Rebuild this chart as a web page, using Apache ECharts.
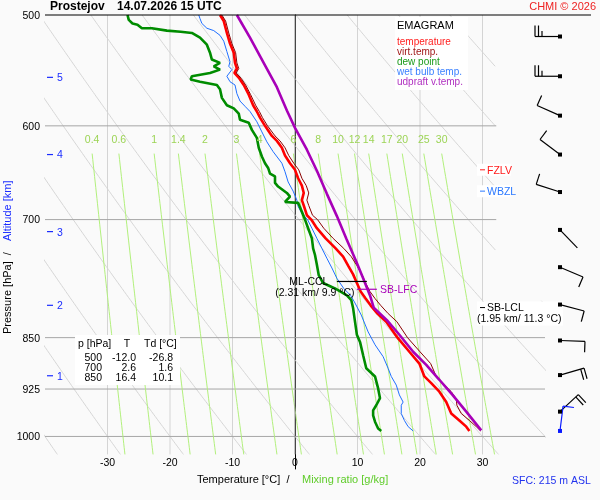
<!DOCTYPE html>
<html lang="cs">
<head>
<meta charset="utf-8">
<title>Emagram Prostejov 14.07.2026 15 UTC</title>
<script src="https://cdn.jsdelivr.net/npm/echarts@6/dist/echarts.min.js"></script>
<style>
  html, body { margin: 0; padding: 0; background: #fafafa; }
  #main { width: 600px; height: 500px; }
</style>
</head>
<body>
<div id="main"></div>
<script>
// sounding: [pressure hPa, temperature °C]
var temperature = [[500,-12.0],[505,-11.4],[515,-10.9],[524,-10.4],[532,-9.8],[541,-9.6],[546,-9.3],[550,-9.7],[555,-8.9],[561,-8.2],[570,-7.4],[580,-6.7],[586,-6.1],[592,-5.6],[600,-4.8],[610,-3.7],[615,-2.9],[622,-2.1],[630,-1.6],[638,-0.8],[645,0.0],[654,0.5],[662,1.1],[670,1.4],[678,1.1],[684,1.4],[695,1.9],[700,2.6],[710,3.5],[722,4.9],[734,6.5],[744,7.7],[755,8.5],[766,9.3],[777,9.9],[788,10.5],[797,11.3],[806,12.1],[817,13.2],[828,14.6],[850,16.4],[870,18.3],[887,19.9],[906,20.7],[916,21.8],[929,23.1],[945,24.2],[963,25.0],[974,26.3],[984,27.4],[991,27.9]];
var virtTemp = [[500,-11.7],[505,-11.1],[515,-10.6],[524,-10.1],[532,-9.5],[541,-9.3],[546,-9.0],[550,-9.4],[555,-8.6],[561,-7.9],[570,-7.1],[580,-6.3],[586,-5.7],[592,-5.2],[600,-4.4],[610,-3.2],[615,-2.4],[622,-1.6],[630,-1.0],[638,-0.2],[645,0.6],[654,1.1],[662,1.8],[670,2.2],[678,1.9],[684,2.2],[695,2.8],[700,3.6],[710,4.6],[722,6.1],[734,7.8],[744,9.0],[755,9.9],[766,10.7],[777,11.3],[788,12.0],[797,12.8],[806,13.7],[817,14.9],[828,16.3],[850,18.0],[870,20.0],[887,21.7],[906,22.6],[916,23.6],[929,25.0],[940,25.8],[950,25.9],[963,26.6],[974,27.9],[984,29.0],[991,29.7]];
var dewPoint = [[500,-26.8],[504,-26.6],[507,-26.0],[508,-25.2],[511,-24.5],[511,-22.9],[513,-20.5],[514,-18.3],[515,-16.5],[519,-15.2],[525,-14.1],[532,-13.6],[538,-13.3],[541,-12.0],[544,-13.0],[547,-12.0],[550,-13.6],[553,-16.5],[556,-16.7],[558,-15.2],[561,-12.5],[565,-12.0],[573,-11.7],[580,-10.9],[583,-9.8],[588,-9.0],[594,-8.8],[597,-7.4],[604,-6.9],[612,-6.1],[622,-5.8],[631,-5.3],[638,-4.8],[643,-4.3],[649,-4.0],[652,-3.2],[659,-3.2],[663,-2.7],[670,-1.3],[674,-0.8],[680,-1.6],[681,0.5],[691,1.1],[700,1.6],[710,2.1],[722,2.7],[734,2.9],[742,3.2],[754,3.5],[767,3.8],[777,4.5],[784,6.4],[790,7.7],[793,8.3],[799,9.0],[810,9.3],[828,9.6],[846,9.9],[850,10.1],[856,10.4],[875,10.9],[894,11.4],[906,12.8],[924,13.3],[939,13.6],[950,13.0],[958,12.5],[966,12.5],[976,12.8],[987,13.3],[991,13.8]];
var wetBulb = [[500,-15.4],[503,-15.2],[507,-14.9],[511,-14.1],[513,-13.0],[517,-12.0],[522,-11.4],[531,-10.9],[540,-10.4],[544,-10.6],[547,-10.1],[553,-10.9],[558,-10.4],[561,-9.6],[569,-9.3],[576,-8.8],[581,-8.0],[586,-7.2],[596,-6.1],[606,-5.3],[616,-4.5],[626,-3.5],[638,-2.1],[647,-1.6],[658,-1.1],[668,-0.3],[678,0.3],[685,0.5],[693,1.1],[700,2.0],[710,2.7],[722,3.5],[734,4.3],[746,5.1],[758,5.9],[771,6.7],[784,7.8],[793,8.9],[803,9.6],[819,10.6],[842,11.7],[860,12.8],[877,14.1],[894,14.9],[906,15.4],[919,16.2],[934,16.7],[945,17.3],[950,17.0],[952,16.7],[963,17.0],[974,17.5],[984,18.1],[991,18.9]];
var updraft = [[500,-9.3],[519,-7.2],[540,-5.1],[563,-2.9],[585,-1.3],[602,0.0],[624,1.9],[646,3.5],[671,5.1],[696,6.7],[722,8.2],[750,9.8],[771,10.9],[793,12.0],[809,12.6],[826,14.7],[846,16.7],[870,18.9],[889,21.0],[911,23.1],[934,25.2],[960,27.4],[990,29.8]];

// chart furniture
var pressureTicks = [500, 600, 700, 850, 925, 1000];
var isotherms = [-30, -20, -10, 0, 10, 20, 30];
var mixingRatios = [0.4, 0.6, 1, 1.4, 2, 3, 4, 6, 8, 10, 12, 14, 17, 20, 25, 30];
var dryAdiabats = [-40, -30, -20, -10, 0, 10, 20, 30, 40, 50, 60, 70, 80, 90, 100]; // °C at 1000 hPa
var altitudeP = [905, 806, 714, 629, 554];
var altitudeKm = [1, 2, 3, 4, 5];

// wind profile
var windP = [518, 553, 590, 629, 669, 712, 757, 805, 854, 904, 960, 991];
var windDir = [270, 270, 294, 307, 288, 136, 113, 105, 92, 74, 47, 7];
var windSpd = [25, 25, 10, 10, 10, 3, 10, 10, 10, 20, 20, 10];

// table + levels
var tableP = ['500', '700', '850'];
var tableT = ['-12.0', '2.6', '16.4'];
var tableTd = ['-26.8', '1.6', '10.1'];
var levelNames = ['FZLV', 'WBZL', 'SB-LCL'];
var levelP = [645, 668, 809];
var lclInfo = '(1.95 km/ 11.3 °C)';
var cclP = 775, cclInfo = '(2.31 km/ 9.9 °C)';
var lfcP = 785;

var FONT = 'Liberation Sans, Arial, sans-serif';

function flip(arr) { return arr.map(function (d) { return [d[1], d[0]]; }); }

function line(data, color, width, z) {
  return {
    type: 'line', data: data, symbol: 'none', showSymbol: false, silent: true,
    animation: false, clip: true, z: z,
    lineStyle: { color: color, width: width }
  };
}

// keep the upper right corner (barbs, level labels) free of grid lines
function rightLimit(p) { return p < 800 ? 32.2 : 41; }

function segments(pts) {
  var out = [], cur = [];
  pts.forEach(function (d) {
    if (d[0] <= rightLimit(d[1])) cur.push(d);
    else { if (cur.length > 1) out.push(cur); cur = []; }
  });
  if (cur.length > 1) out.push(cur);
  return out;
}

function mixT(w, p) {
  var e = w * p / (622 + w);
  var l = Math.log(e / 6.112);
  return 243.5 * l / (17.67 - l);
}

var series = [];

// dry adiabats
dryAdiabats.forEach(function (t0) {
  var th = t0 + 273.15, pts = [];
  for (var p = 500; p <= 1030; p += 2) pts.push([th * Math.pow(p / 1000, 0.2857) - 273.15, p]);
  segments(pts).forEach(function (s) { series.push(line(s, '#d6d6d6', 1, 1)); });
});

// isotherms
isotherms.forEach(function (t) {
  series.push(line([[t, 500], [t, 1030]], t === 0 ? '#8c8c8c' : '#d4d4d4', 1, t === 0 ? 3 : 1));
});

// isobars
pressureTicks.forEach(function (p) {
  if (p === 500) return;
  series.push(line([[-40, p], [rightLimit(p) > 40 ? 40 : 32.2, p]], '#a6a6a6', 1, 2));
});

// mixing ratio lines
mixingRatios.forEach(function (w) {
  var pts = [];
  for (var p = 628; p <= 1030; p += 6) pts.push([mixT(w, p), p]);
  series.push(line(pts, '#b2f07c', 1, 2));
});

// profiles
series.push(line(flip(wetBulb), '#1f6fff', 1, 5));
series.push(line(flip(dewPoint), '#008c00', 2.6, 6));
series.push(line(flip(temperature), '#ff0000', 2.6, 7));
series.push(line(flip(virtTemp), '#8b0000', 1, 8));
series.push(line(flip(updraft), '#a800b8', 2.6, 9));

var chart = echarts.init(document.getElementById('main'), null, { renderer: 'canvas' });
chart.setOption({
  backgroundColor: '#fafafa',
  animation: false,
  grid: { left: 45, right: 55, top: 15, bottom: 31, containLabel: false, outerBoundsMode: 'none' },
  xAxis: {
    type: 'value', min: -40, max: 40, interval: 10,
    axisLine: { show: false }, axisTick: { show: false }, splitLine: { show: false },
    axisLabel: {
      inside: true, margin: 0, color: '#000', fontSize: 10.5, fontFamily: FONT,
      formatter: function (v) { return (v === -40 || v === 40) ? '' : String(v); }
    }
  },
  yAxis: {
    type: 'log', logBase: 10, min: 500, max: 1055, inverse: true,
    axisLine: { show: true, lineStyle: { color: '#000', width: 1 } },
    axisTick: { show: false }, axisLabel: { show: false }, splitLine: { show: false }
  },
  series: series
});

function px(t, p) { return chart.convertToPixel({ gridIndex: 0 }, [t, p]); }

function txt(x, y, s, color, size, align, weight) {
  return {
    type: 'text', x: x, y: y, silent: true, z: 50,
    style: { text: s, fill: color, fontSize: size, fontFamily: FONT, fontWeight: weight || 'normal',
             align: align || 'left', verticalAlign: 'middle' }
  };
}
function seg(x1, y1, x2, y2, color, w) {
  return { type: 'line', silent: true, z: 50, shape: { x1: x1, y1: y1, x2: x2, y2: y2 },
           style: { stroke: color, lineWidth: w || 1 } };
}
function box(x, y, w, h) {
  return { type: 'rect', silent: true, z: 40, shape: { x: x, y: y, width: w, height: h }, style: { fill: '#ffffff' } };
}

var g = [];
var gLeft = px(-40, 500)[0], gRight = px(40, 500)[0], gTop = px(0, 500)[1];

// frame top + titles
g.push(seg(gLeft, gTop, 591, gTop, '#000', 1));
g.push(txt(50, 7, 'Prostejov', '#000', 12, 'left', 'bold'));
g.push(txt(117, 7, '14.07.2026 15 UTC', '#000', 12, 'left', 'bold'));
g.push(txt(596, 7, 'CHMI \u00a9 2026', '#ee2222', 11, 'right'));

// pressure labels
pressureTicks.forEach(function (p) { g.push(txt(40, px(0, p)[1] + 1, String(p), '#000', 10.5, 'right')); });

// altitude ticks
altitudeP.forEach(function (p, i) {
  var y = px(-40, p)[1];
  g.push(seg(gLeft + 2, y, gLeft + 8, y, '#1a2cff', 1.2));
  g.push(txt(gLeft + 12, y + 1, String(altitudeKm[i]), '#1a2cff', 10.5, 'left'));
});

// mixing ratio labels
mixingRatios.forEach(function (w) {
  var q = px(mixT(w, 628), 628);
  g.push(txt(q[0], q[1] - 13, String(w), '#9cd455', 10.5, 'center'));
});

// axis titles
g.push({
  type: 'text', x: 8, y: 334, rotation: Math.PI / 2, silent: true, z: 50,
  style: { text: 'Pressure [hPa]  /', fill: '#000', fontSize: 11, fontFamily: FONT, align: 'left', verticalAlign: 'middle' }
});
g.push({
  type: 'text', x: 8, y: 241, rotation: Math.PI / 2, silent: true, z: 50,
  style: { text: 'Altitude [km]', fill: '#1a2cff', fontSize: 11, fontFamily: FONT, align: 'left', verticalAlign: 'middle' }
});
g.push(txt(197, 480, 'Temperature [\u00b0C]  /', '#000', 11, 'left'));
g.push(txt(302, 480, 'Mixing ratio [g/kg]', '#5fcc2a', 11, 'left'));
g.push(txt(512, 481, 'SFC: 215 m ASL', '#2233ee', 10.5, 'left'));

// legend
g.push(box(395, 17, 73, 73));
g.push(txt(397, 26, 'EMAGRAM', '#000', 11, 'left'));
[['temperature', '#ff2020'], ['virt.temp.', '#a01818'], ['dew point', '#1a9a1a'],
 ['wet bulb temp.', '#3a80ff'], ['udpraft v.temp.', '#b030c0']].forEach(function (l, i) {
  g.push(txt(397, 42 + i * 10, l[0], l[1], 10, 'left'));
});

// table
g.push(box(75, 335, 105, 50));
g.push(txt(78, 344, 'p [hPa]', '#000', 10.5, 'left'));
g.push(txt(127, 344, 'T', '#000', 10.5, 'center'));
g.push(txt(144, 344, 'Td [\u00b0C]', '#000', 10.5, 'left'));
tableP.forEach(function (p, i) {
  var y = 358 + i * 10;
  g.push(txt(102, y, p, '#000', 10.5, 'right'));
  g.push(txt(136, y, tableT[i], '#000', 10.5, 'right'));
  g.push(txt(173, y, tableTd[i], '#000', 10.5, 'right'));
});

// level markers on the right
var levelColors = ['#ff1a1a', '#2a78ff', '#000'];
levelP.forEach(function (p, i) {
  var q = px(29.6, p);
  var w = levelNames[i] === 'SB-LCL' ? 86 : 34;
  var h = levelNames[i] === 'SB-LCL' ? 24 : 12;
  g.push(box(q[0] - 3, q[1] - 6, w, h));
  g.push(seg(q[0], q[1], q[0] + 5, q[1], levelColors[i], 1));
  g.push(txt(q[0] + 7, q[1] + 1, levelNames[i], levelColors[i], 10.5, 'left'));
  if (levelNames[i] === 'SB-LCL') g.push(txt(q[0] - 3, q[1] + 12, lclInfo, '#000', 10.5, 'left'));
});

// ML-CCL
var c1 = px(6.7, cclP), c2 = px(11.5, cclP);
g.push(seg(c1[0], c1[1], c2[0], c2[1], '#000', 1.2));
g.push(txt(c1[0] - 28, c1[1] + 1, 'ML-CCL', '#000', 10.5, 'center'));
g.push(txt(c1[0] - 22, c1[1] + 12, cclInfo, '#000', 10.5, 'center'));

// SB-LFC
var f1 = px(9.9, lfcP), f2 = px(13.1, lfcP);
g.push(seg(f1[0], f1[1], f2[0], f2[1], '#a800b8', 1.2));
g.push(txt(f2[0] + 3, f2[1] + 1, 'SB-LFC', '#a800b8', 10.5, 'left'));

// wind barbs
windP.forEach(function (p, i) {
  var y = px(40, p)[1], x = gRight + 15;
  var col = i === windP.length - 1 ? '#0a1aff' : '#000';
  var a = windDir[i] * Math.PI / 180;
  var ux = Math.sin(a), uy = -Math.cos(a);
  var ex = x + ux * 25, ey = y + uy * 25;
  var nx = -uy, ny = ux;
  g.push(seg(x, y, ex, ey, col, 1.2));
  var s = windSpd[i], off = 0;
  while (s >= 10) {
    var bx = ex - ux * off, by = ey - uy * off;
    g.push(seg(bx, by, bx + nx * 11, by + ny * 11, col, 1.2));
    s -= 10; off += 3.5;
  }
  if (s >= 5) {
    var hx = ex - ux * off, hy = ey - uy * off;
    g.push(seg(hx, hy, hx + nx * 5.5, hy + ny * 5.5, col, 1.2));
  }
  g.push({ type: 'rect', silent: true, z: 51, shape: { x: x - 2, y: y - 2, width: 4, height: 4 }, style: { fill: col } });
});

chart.setOption({ graphic: { elements: g } });
</script>
</body>
</html>
